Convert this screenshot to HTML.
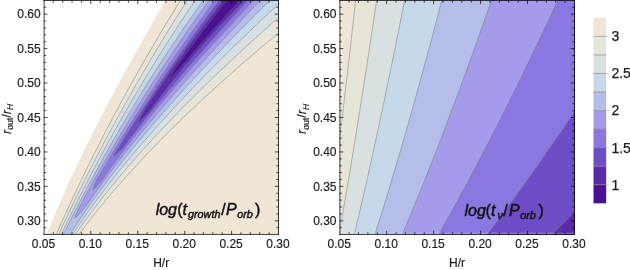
<!DOCTYPE html>
<html><head><meta charset="utf-8"><style>
html,body{margin:0;padding:0;background:#fff;width:630px;height:270px;overflow:hidden}
svg{display:block;will-change:transform}
text{font-family:"Liberation Sans",sans-serif;fill:#1a1a1a}
.tk{font-size:12px;stroke:#1a1a1a;stroke-width:0.15px}
.lg{font-size:14px;stroke:#1a1a1a;stroke-width:0.25px}
.pl{font-size:16px;font-style:italic;fill:#111;stroke:#111;stroke-width:0.45px}
</style></head><body>
<svg xmlns="http://www.w3.org/2000/svg" width="630" height="270" viewBox="0 0 630 270">
<rect width="630" height="270" fill="#fff"/>
<clipPath id="cl"><rect x="43.90" y="0" width="235.10" height="235"/></clipPath>
<g clip-path="url(#cl)">
<rect x="43.90" y="0" width="235.60" height="236" fill="#f0e6d5"/>
<polygon points="167.45,-2.80 165.67,0.24 163.89,3.28 162.12,6.32 160.34,9.36 158.58,12.40 156.81,15.44 155.05,18.48 153.30,21.52 151.55,24.56 149.80,27.61 148.06,30.65 146.32,33.69 144.59,36.73 142.87,39.77 141.14,42.81 139.43,45.85 137.72,48.89 136.01,51.93 134.31,54.97 132.61,58.01 130.92,61.05 129.24,64.09 127.56,67.13 125.89,70.17 124.22,73.21 122.56,76.25 120.90,79.29 119.25,82.33 117.61,85.37 115.98,88.42 114.35,91.46 112.72,94.50 111.11,97.54 109.50,100.58 107.89,103.62 106.30,106.66 104.71,109.70 103.13,112.74 101.55,115.78 99.99,118.82 98.43,121.86 96.87,124.90 95.33,127.94 93.79,130.98 92.26,134.02 90.74,137.06 89.23,140.10 87.72,143.14 86.22,146.18 84.73,149.23 83.25,152.27 81.78,155.31 80.31,158.35 78.85,161.39 77.41,164.43 75.97,167.47 74.54,170.51 73.12,173.55 71.70,176.59 70.30,179.63 68.91,182.67 67.52,185.71 66.15,188.75 64.78,191.79 63.42,194.83 62.07,197.87 60.74,200.91 59.41,203.95 58.09,206.99 56.78,210.04 55.48,213.08 54.20,216.12 52.92,219.16 51.65,222.20 50.39,225.24 49.15,228.28 47.91,231.32 46.69,234.36 45.47,237.40 38.90,237.40 38.90,-2.80" fill="#ffffff"/>
<polygon points="182.50,-2.80 180.59,0.24 178.70,3.28 176.81,6.32 174.92,9.36 173.05,12.40 171.19,15.44 169.33,18.48 167.48,21.52 165.64,24.56 163.80,27.61 161.98,30.65 160.16,33.69 158.35,36.73 156.55,39.77 154.75,42.81 152.96,45.85 151.18,48.89 149.41,51.93 147.64,54.97 145.89,58.01 144.14,61.05 142.39,64.09 140.66,67.13 138.93,70.17 137.21,73.21 135.50,76.25 133.79,79.29 132.09,82.33 130.40,85.37 128.71,88.42 127.04,91.46 125.37,94.50 123.70,97.54 122.05,100.58 120.40,103.62 118.76,106.66 117.12,109.70 115.50,112.74 113.88,115.78 112.26,118.82 110.66,121.86 109.06,124.90 107.47,127.94 105.88,130.98 104.30,134.02 102.73,137.06 101.17,140.10 99.61,143.14 98.06,146.18 96.52,149.23 94.99,152.27 93.46,155.31 91.94,158.35 90.42,161.39 88.92,164.43 87.42,167.47 85.93,170.51 84.44,173.55 82.96,176.59 81.49,179.63 80.03,182.67 78.58,185.71 77.13,188.75 75.69,191.79 74.25,194.83 72.83,197.87 71.41,200.91 70.00,203.95 68.60,206.99 67.20,210.04 65.81,213.08 64.43,216.12 63.06,219.16 61.70,222.20 60.34,225.24 59.00,228.28 57.66,231.32 56.32,234.36 55.00,237.40 76.81,237.40 79.03,234.36 81.28,231.32 83.56,228.28 85.86,225.24 88.19,222.20 90.55,219.16 92.93,216.12 95.34,213.08 97.77,210.04 100.23,206.99 102.72,203.95 105.23,200.91 107.77,197.87 110.33,194.83 112.92,191.79 115.53,188.75 118.16,185.71 120.82,182.67 123.51,179.63 126.22,176.59 128.95,173.55 131.71,170.51 134.49,167.47 137.30,164.43 140.13,161.39 142.98,158.35 145.85,155.31 148.75,152.27 151.67,149.23 154.62,146.18 157.58,143.14 160.57,140.10 163.58,137.06 166.61,134.02 169.66,130.98 172.74,127.94 175.83,124.90 178.95,121.86 182.09,118.82 185.25,115.78 188.42,112.74 191.62,109.70 194.84,106.66 198.08,103.62 201.34,100.58 204.62,97.54 207.91,94.50 211.23,91.46 214.57,88.42 217.92,85.37 221.29,82.33 224.68,79.29 228.09,76.25 231.51,73.21 234.96,70.17 238.42,67.13 241.90,64.09 245.39,61.05 248.90,58.01 252.43,54.97 255.97,51.93 259.53,48.89 263.10,45.85 266.69,42.81 270.30,39.77 273.92,36.73 277.55,33.69 281.20,30.65 284.87,27.61 288.54,24.56 292.23,21.52 295.94,18.48 299.65,15.44 303.38,12.40 307.13,9.36 310.88,6.32 314.65,3.28 318.43,0.24 322.22,-2.80" fill="#e7e4d8"/>
<polygon points="189.34,-2.80 187.38,0.24 185.43,3.28 183.49,6.32 181.56,9.36 179.64,12.40 177.72,15.44 175.81,18.48 173.91,21.52 172.02,24.56 170.13,27.61 168.25,30.65 166.38,33.69 164.51,36.73 162.66,39.77 160.81,42.81 158.97,45.85 157.13,48.89 155.30,51.93 153.48,54.97 151.67,58.01 149.86,61.05 148.06,64.09 146.27,67.13 144.49,70.17 142.71,73.21 140.94,76.25 139.17,79.29 137.42,82.33 135.67,85.37 133.93,88.42 132.19,91.46 130.46,94.50 128.74,97.54 127.03,100.58 125.32,103.62 123.62,106.66 121.93,109.70 120.24,112.74 118.56,115.78 116.89,118.82 115.23,121.86 113.57,124.90 111.92,127.94 110.27,130.98 108.64,134.02 107.01,137.06 105.38,140.10 103.77,143.14 102.16,146.18 100.56,149.23 98.96,152.27 97.38,155.31 95.80,158.35 94.22,161.39 92.66,164.43 91.10,167.47 89.55,170.51 88.01,173.55 86.47,176.59 84.94,179.63 83.42,182.67 81.91,185.71 80.40,188.75 78.90,191.79 77.41,194.83 75.93,197.87 74.45,200.91 72.99,203.95 71.53,206.99 70.07,210.04 68.63,213.08 67.19,216.12 65.77,219.16 64.35,222.20 62.93,225.24 61.53,228.28 60.14,231.32 58.75,234.36 57.37,237.40 73.27,237.40 75.37,234.36 77.49,231.32 79.64,228.28 81.81,225.24 84.00,222.20 86.22,219.16 88.46,216.12 90.73,213.08 93.02,210.04 95.33,206.99 97.67,203.95 100.02,200.91 102.41,197.87 104.81,194.83 107.24,191.79 109.69,188.75 112.16,185.71 114.65,182.67 117.17,179.63 119.71,176.59 122.27,173.55 124.85,170.51 127.45,167.47 130.07,164.43 132.72,161.39 135.39,158.35 138.07,155.31 140.78,152.27 143.51,149.23 146.25,146.18 149.02,143.14 151.81,140.10 154.61,137.06 157.44,134.02 160.29,130.98 163.15,127.94 166.03,124.90 168.94,121.86 171.86,118.82 174.80,115.78 177.75,112.74 180.73,109.70 183.72,106.66 186.73,103.62 189.76,100.58 192.80,97.54 195.87,94.50 198.95,91.46 202.04,88.42 205.15,85.37 208.28,82.33 211.42,79.29 214.58,76.25 217.76,73.21 220.95,70.17 224.15,67.13 227.37,64.09 230.61,61.05 233.86,58.01 237.12,54.97 240.40,51.93 243.69,48.89 246.99,45.85 250.31,42.81 253.64,39.77 256.98,36.73 260.34,33.69 263.71,30.65 267.09,27.61 270.48,24.56 273.89,21.52 277.30,18.48 280.73,15.44 284.17,12.40 287.62,9.36 291.07,6.32 294.54,3.28 298.02,0.24 301.51,-2.80" fill="#d9e0e2"/>
<polygon points="197.42,-2.80 195.33,0.24 193.26,3.28 191.20,6.32 189.14,9.36 187.10,12.40 185.07,15.44 183.04,18.48 181.03,21.52 179.03,24.56 177.03,27.61 175.05,30.65 173.07,33.69 171.11,36.73 169.15,39.77 167.21,42.81 165.27,45.85 163.34,48.89 161.42,51.93 159.51,54.97 157.61,58.01 155.72,61.05 153.83,64.09 151.96,67.13 150.09,70.17 148.23,73.21 146.39,76.25 144.55,79.29 142.71,82.33 140.89,85.37 139.08,88.42 137.27,91.46 135.47,94.50 133.68,97.54 131.90,100.58 130.13,103.62 128.36,106.66 126.60,109.70 124.85,112.74 123.11,115.78 121.38,118.82 119.66,121.86 117.94,124.90 116.23,127.94 114.53,130.98 112.84,134.02 111.15,137.06 109.47,140.10 107.80,143.14 106.14,146.18 104.49,149.23 102.84,152.27 101.20,155.31 99.57,158.35 97.95,161.39 96.33,164.43 94.73,167.47 93.13,170.51 91.54,173.55 89.95,176.59 88.38,179.63 86.81,182.67 85.25,185.71 83.70,188.75 82.15,191.79 80.62,194.83 79.09,197.87 77.57,200.91 76.05,203.95 74.55,206.99 73.05,210.04 71.56,213.08 70.08,216.12 68.61,219.16 67.15,222.20 65.69,225.24 64.24,228.28 62.81,231.32 61.37,234.36 59.95,237.40 70.67,237.40 72.67,234.36 74.69,231.32 76.73,228.28 78.79,225.24 80.88,222.20 82.99,219.16 85.12,216.12 87.27,213.08 89.44,210.04 91.64,206.99 93.85,203.95 96.09,200.91 98.35,197.87 100.63,194.83 102.93,191.79 105.25,188.75 107.59,185.71 109.95,182.67 112.33,179.63 114.73,176.59 117.15,173.55 119.59,170.51 122.05,167.47 124.53,164.43 127.03,161.39 129.55,158.35 132.09,155.31 134.64,152.27 137.22,149.23 139.81,146.18 142.42,143.14 145.05,140.10 147.70,137.06 150.36,134.02 153.05,130.98 155.75,127.94 158.46,124.90 161.20,121.86 163.95,118.82 166.72,115.78 169.50,112.74 172.30,109.70 175.12,106.66 177.95,103.62 180.80,100.58 183.67,97.54 186.55,94.50 189.45,91.46 192.36,88.42 195.28,85.37 198.22,82.33 201.18,79.29 204.15,76.25 207.13,73.21 210.13,70.17 213.14,67.13 216.17,64.09 219.20,61.05 222.26,58.01 225.32,54.97 228.40,51.93 231.49,48.89 234.59,45.85 237.71,42.81 240.83,39.77 243.97,36.73 247.12,33.69 250.28,30.65 253.46,27.61 256.64,24.56 259.84,21.52 263.04,18.48 266.26,15.44 269.48,12.40 272.72,9.36 275.96,6.32 279.22,3.28 282.48,0.24 285.75,-2.80" fill="#c6d9ea"/>
<polygon points="205.53,-2.80 203.34,0.24 201.16,3.28 198.98,6.32 196.82,9.36 194.68,12.40 192.54,15.44 190.41,18.48 188.29,21.52 186.19,24.56 184.09,27.61 182.01,30.65 179.94,33.69 177.87,36.73 175.82,39.77 173.78,42.81 171.74,45.85 169.72,48.89 167.71,51.93 165.71,54.97 163.71,58.01 161.73,61.05 159.76,64.09 157.79,67.13 155.84,70.17 153.89,73.21 151.96,76.25 150.03,79.29 148.12,82.33 146.21,85.37 144.31,88.42 142.42,91.46 140.55,94.50 138.68,97.54 136.81,100.58 134.96,103.62 133.12,106.66 131.28,109.70 129.46,112.74 127.64,115.78 125.84,118.82 124.04,121.86 122.25,124.90 120.46,127.94 118.69,130.98 116.93,134.02 115.17,137.06 113.42,140.10 111.69,143.14 109.95,146.18 108.23,149.23 106.52,152.27 104.82,155.31 103.12,158.35 101.43,161.39 99.75,164.43 98.08,167.47 96.42,170.51 94.76,173.55 93.12,176.59 91.48,179.63 89.85,182.67 88.23,185.71 86.62,188.75 85.02,191.79 83.42,194.83 81.84,197.87 80.26,200.91 78.69,203.95 77.13,206.99 75.58,210.04 74.03,213.08 72.50,216.12 70.97,219.16 69.45,222.20 67.95,225.24 66.45,228.28 64.96,231.32 63.47,234.36 62.00,237.40 68.14,237.40 70.07,234.36 72.02,231.32 73.99,228.28 75.99,225.24 78.00,222.20 80.04,219.16 82.09,216.12 84.17,213.08 86.27,210.04 88.38,206.99 90.52,203.95 92.68,200.91 94.86,197.87 97.05,194.83 99.27,191.79 101.50,188.75 103.76,185.71 106.03,182.67 108.32,179.63 110.64,176.59 112.96,173.55 115.31,170.51 117.68,167.47 120.06,164.43 122.46,161.39 124.88,158.35 127.32,155.31 129.77,152.27 132.24,149.23 134.73,146.18 137.23,143.14 139.75,140.10 142.29,137.06 144.84,134.02 147.41,130.98 149.99,127.94 152.59,124.90 155.21,121.86 157.84,118.82 160.48,115.78 163.14,112.74 165.81,109.70 168.50,106.66 171.20,103.62 173.92,100.58 176.65,97.54 179.39,94.50 182.15,91.46 184.92,88.42 187.70,85.37 190.49,82.33 193.30,79.29 196.12,76.25 198.95,73.21 201.79,70.17 204.64,67.13 207.51,64.09 210.38,61.05 213.27,58.01 216.17,54.97 219.07,51.93 221.99,48.89 224.92,45.85 227.85,42.81 230.80,39.77 233.75,36.73 236.72,33.69 239.69,30.65 242.67,27.61 245.66,24.56 248.65,21.52 251.66,18.48 254.67,15.44 257.69,12.40 260.71,9.36 263.75,6.32 266.78,3.28 269.83,0.24 272.88,-2.80" fill="#b5bdeb"/>
<polygon points="211.39,-2.80 209.36,-0.01 207.34,2.79 205.33,5.58 203.33,8.38 201.33,11.17 199.34,13.97 197.36,16.76 195.39,19.56 193.42,22.35 191.47,25.15 189.52,27.94 187.57,30.74 185.64,33.53 183.71,36.33 181.79,39.12 179.88,41.92 177.97,44.71 176.07,47.51 174.18,50.30 172.29,53.10 170.42,55.89 168.55,58.69 166.68,61.48 164.83,64.28 162.98,67.07 161.14,69.87 159.30,72.66 157.48,75.46 155.66,78.25 153.84,81.05 152.04,83.84 150.24,86.64 148.45,89.43 146.66,92.23 144.89,95.02 143.11,97.82 141.35,100.61 139.59,103.41 137.84,106.20 136.10,109.00 134.37,111.79 132.64,114.59 130.91,117.38 129.20,120.18 127.49,122.97 125.79,125.77 124.10,128.56 122.41,131.36 120.73,134.15 119.06,136.95 117.39,139.74 115.73,142.54 114.08,145.33 112.43,148.13 110.79,150.92 109.16,153.72 107.54,156.51 105.92,159.31 104.31,162.10 102.71,164.90 101.12,167.69 99.53,170.49 97.95,173.28 96.37,176.08 94.81,178.87 93.25,181.67 91.69,184.46 90.15,187.26 88.61,190.05 87.08,192.85 85.56,195.64 84.04,198.44 82.54,201.23 81.04,204.03 79.54,206.82 78.16,209.62 76.90,212.41 75.73,215.21 75.00,218.00 75.00,218.00 77.91,215.21 80.49,212.41 83.10,209.62 85.45,206.82 87.36,204.03 89.30,201.23 91.24,198.44 93.21,195.64 95.19,192.85 97.18,190.05 99.20,187.26 101.22,184.46 103.27,181.67 105.32,178.87 107.40,176.08 109.48,173.28 111.59,170.49 113.70,167.69 115.83,164.90 117.98,162.10 120.14,159.31 122.31,156.51 124.50,153.72 126.70,150.92 128.92,148.13 131.14,145.33 133.38,142.54 135.64,139.74 137.90,136.95 140.18,134.15 142.48,131.36 144.78,128.56 147.09,125.77 149.42,122.97 151.76,120.18 154.11,117.38 156.47,114.59 158.85,111.79 161.23,109.00 163.63,106.20 166.03,103.41 168.45,100.61 170.87,97.82 173.31,95.02 175.76,92.23 178.21,89.43 180.68,86.64 183.15,83.84 185.63,81.05 188.13,78.25 190.63,75.46 193.13,72.66 195.65,69.87 198.18,67.07 200.71,64.28 203.25,61.48 205.80,58.69 208.35,55.89 210.91,53.10 213.48,50.30 216.06,47.51 218.64,44.71 221.23,41.92 223.82,39.12 226.42,36.33 229.02,33.53 231.63,30.74 234.25,27.94 236.87,25.15 239.49,22.35 242.12,19.56 244.75,16.76 247.39,13.97 250.03,11.17 252.67,8.38 255.31,5.58 257.96,2.79 260.62,-0.01 263.27,-2.80" fill="#a49cea"/>
<polygon points="217.18,-2.80 215.37,-0.36 213.56,2.08 211.76,4.52 209.97,6.96 208.18,9.40 206.40,11.84 204.62,14.28 202.85,16.72 201.08,19.16 199.32,21.61 197.56,24.05 195.81,26.49 194.07,28.93 192.33,31.37 190.60,33.81 188.87,36.25 187.15,38.69 185.43,41.13 183.72,43.57 182.02,46.01 180.32,48.45 178.62,50.89 176.94,53.33 175.25,55.77 173.57,58.21 171.90,60.65 170.23,63.09 168.57,65.53 166.92,67.97 165.27,70.42 163.62,72.86 161.98,75.30 160.35,77.74 158.72,80.18 157.09,82.62 155.48,85.06 153.86,87.50 152.26,89.94 150.65,92.38 149.06,94.82 147.47,97.26 145.88,99.70 144.30,102.14 142.72,104.58 141.15,107.02 139.59,109.46 138.03,111.90 136.48,114.34 134.93,116.78 133.39,119.23 131.85,121.67 130.32,124.11 128.79,126.55 127.27,128.99 125.75,131.43 124.24,133.87 122.74,136.31 121.24,138.75 119.74,141.19 118.26,143.63 116.77,146.07 115.30,148.51 113.82,150.95 112.36,153.39 110.90,155.83 109.44,158.27 107.99,160.71 106.55,163.15 105.11,165.59 103.67,168.04 102.25,170.48 100.82,172.92 99.41,175.36 98.00,177.80 96.63,180.24 95.56,182.68 94.54,185.12 93.57,187.56 93.00,190.00 93.00,190.00 95.45,187.56 97.58,185.12 99.70,182.68 101.85,180.24 103.62,177.80 105.36,175.36 107.10,172.92 108.86,170.48 110.63,168.04 112.40,165.59 114.19,163.15 115.99,160.71 117.80,158.27 119.62,155.83 121.45,153.39 123.29,150.95 125.15,148.51 127.01,146.07 128.88,143.63 130.76,141.19 132.65,138.75 134.55,136.31 136.47,133.87 138.39,131.43 140.32,128.99 142.26,126.55 144.21,124.11 146.17,121.67 148.14,119.23 150.11,116.78 152.10,114.34 154.10,111.90 156.10,109.46 158.12,107.02 160.14,104.58 162.18,102.14 164.22,99.70 166.27,97.26 168.33,94.82 170.39,92.38 172.47,89.94 174.55,87.50 176.65,85.06 178.75,82.62 180.86,80.18 182.97,77.74 185.10,75.30 187.23,72.86 189.37,70.42 191.52,67.97 193.68,65.53 195.84,63.09 198.01,60.65 200.19,58.21 202.38,55.77 204.57,53.33 206.77,50.89 208.98,48.45 211.19,46.01 213.41,43.57 215.64,41.13 217.88,38.69 220.12,36.25 222.37,33.81 224.62,31.37 226.88,28.93 229.15,26.49 231.42,24.05 233.70,21.61 235.99,19.16 238.28,16.72 240.58,14.28 242.88,11.84 245.19,9.40 247.50,6.96 249.82,4.52 252.15,2.08 254.48,-0.36 256.82,-2.80" fill="#8a78e0"/>
<polygon points="221.79,-2.80 220.26,-0.79 218.74,1.22 217.21,3.23 215.70,5.24 214.18,7.25 212.67,9.26 211.17,11.27 209.67,13.28 208.17,15.29 206.68,17.30 205.19,19.31 203.71,21.32 202.23,23.33 200.75,25.34 199.28,27.35 197.82,29.36 196.35,31.37 194.90,33.38 193.44,35.39 191.99,37.40 190.55,39.41 189.10,41.42 187.67,43.43 186.23,45.44 184.80,47.45 183.38,49.46 181.95,51.47 180.54,53.48 179.12,55.49 177.71,57.50 176.31,59.51 174.91,61.52 173.51,63.53 172.11,65.54 170.72,67.55 169.34,69.56 167.96,71.57 166.58,73.58 165.20,75.59 163.83,77.61 162.47,79.62 161.11,81.63 159.75,83.64 158.39,85.65 157.04,87.66 155.69,89.67 154.35,91.68 153.01,93.69 151.68,95.70 150.34,97.71 149.02,99.72 147.69,101.73 146.37,103.74 145.06,105.75 143.74,107.76 142.44,109.77 141.13,111.78 139.83,113.79 138.53,115.80 137.24,117.81 135.95,119.82 134.66,121.83 133.38,123.84 132.10,125.85 130.83,127.86 129.56,129.87 128.29,131.88 127.03,133.89 125.77,135.90 124.51,137.91 123.26,139.92 122.01,141.93 120.77,143.94 119.53,145.95 118.29,147.96 117.08,149.97 115.90,151.98 114.78,153.99 114.00,156.00 114.00,156.00 116.42,153.99 118.56,151.98 120.70,149.97 122.85,147.96 124.37,145.95 125.89,143.94 127.41,141.93 128.95,139.92 130.49,137.91 132.03,135.90 133.58,133.89 135.14,131.88 136.71,129.87 138.28,127.86 139.85,125.85 141.43,123.84 143.02,121.83 144.62,119.82 146.22,117.81 147.82,115.80 149.43,113.79 151.05,111.78 152.67,109.77 154.30,107.76 155.93,105.75 157.57,103.74 159.22,101.73 160.87,99.72 162.52,97.71 164.18,95.70 165.85,93.69 167.52,91.68 169.19,89.67 170.87,87.66 172.56,85.65 174.25,83.64 175.94,81.63 177.64,79.62 179.35,77.61 181.05,75.59 182.77,73.58 184.48,71.57 186.21,69.56 187.93,67.55 189.66,65.54 191.40,63.53 193.14,61.52 194.88,59.51 196.63,57.50 198.38,55.49 200.13,53.48 201.89,51.47 203.65,49.46 205.42,47.45 207.19,45.44 208.96,43.43 210.74,41.42 212.52,39.41 214.31,37.40 216.09,35.39 217.88,33.38 219.68,31.37 221.47,29.36 223.27,27.35 225.08,25.34 226.88,23.33 228.69,21.32 230.50,19.31 232.31,17.30 234.13,15.29 235.95,13.28 237.77,11.27 239.60,9.26 241.42,7.25 243.25,5.24 245.08,3.23 246.91,1.22 248.75,-0.79 250.59,-2.80" fill="#6e4ec6"/>
<polygon points="226.08,-2.80 224.80,-1.21 223.53,0.37 222.27,1.96 221.00,3.54 219.75,5.13 218.49,6.72 217.24,8.30 216.00,9.89 214.75,11.47 213.51,13.06 212.28,14.65 211.05,16.23 209.82,17.82 208.60,19.41 207.38,20.99 206.16,22.58 204.95,24.16 203.74,25.75 202.53,27.34 201.33,28.92 200.13,30.51 198.94,32.09 197.75,33.68 196.56,35.27 195.38,36.85 194.20,38.44 193.02,40.02 191.85,41.61 190.68,43.20 189.51,44.78 188.35,46.37 187.19,47.95 186.03,49.54 184.88,51.13 183.73,52.71 182.58,54.30 181.44,55.88 180.30,57.47 179.16,59.06 178.03,60.64 176.90,62.23 175.78,63.82 174.65,65.40 173.53,66.99 172.41,68.57 171.30,70.16 170.19,71.75 169.08,73.33 167.98,74.92 166.88,76.50 165.78,78.09 164.68,79.68 163.59,81.26 162.50,82.85 161.41,84.43 160.33,86.02 159.25,87.61 158.17,89.19 157.10,90.78 156.03,92.36 154.96,93.95 153.89,95.54 152.83,97.12 151.77,98.71 150.71,100.29 149.66,101.88 148.61,103.47 147.56,105.05 146.51,106.64 145.47,108.23 144.58,109.81 143.72,111.40 142.86,112.98 142.00,114.57 141.15,116.16 140.31,117.74 139.49,119.33 138.73,120.91 138.30,122.50 138.30,122.50 140.19,120.91 141.75,119.33 143.25,117.74 144.72,116.16 146.17,114.57 147.60,112.98 149.03,111.40 150.45,109.81 151.83,108.23 153.00,106.64 154.18,105.05 155.36,103.47 156.55,101.88 157.74,100.29 158.94,98.71 160.14,97.12 161.35,95.54 162.56,93.95 163.77,92.36 165.00,90.78 166.22,89.19 167.45,87.61 168.69,86.02 169.93,84.43 171.18,82.85 172.43,81.26 173.69,79.68 174.96,78.09 176.23,76.50 177.50,74.92 178.78,73.33 180.07,71.75 181.36,70.16 182.66,68.57 183.96,66.99 185.27,65.40 186.58,63.82 187.90,62.23 189.23,60.64 190.56,59.06 191.89,57.47 193.24,55.88 194.59,54.30 195.94,52.71 197.30,51.13 198.67,49.54 200.04,47.95 201.42,46.37 202.81,44.78 204.20,43.20 205.60,41.61 207.00,40.02 208.41,38.44 209.83,36.85 211.25,35.27 212.68,33.68 214.12,32.09 215.56,30.51 217.01,28.92 218.47,27.34 219.93,25.75 221.40,24.16 222.87,22.58 224.36,20.99 225.85,19.41 227.34,17.82 228.85,16.23 230.36,14.65 231.88,13.06 233.40,11.47 234.93,9.89 236.47,8.30 238.02,6.72 239.57,5.13 241.13,3.54 242.70,1.96 244.27,0.37 245.86,-1.21 247.45,-2.80" fill="#5a2ba8"/>
<polygon points="228.96,-2.80 228.13,-1.74 227.30,-0.68 226.47,0.38 225.64,1.44 224.81,2.50 223.98,3.56 223.16,4.63 222.33,5.69 221.51,6.75 220.69,7.81 219.86,8.87 219.04,9.93 218.22,10.99 217.40,12.05 216.58,13.11 215.76,14.17 214.95,15.23 214.13,16.29 213.32,17.35 212.50,18.42 211.69,19.48 210.88,20.54 210.06,21.60 209.25,22.66 208.44,23.72 207.63,24.78 206.83,25.84 206.02,26.90 205.21,27.96 204.41,29.02 203.60,30.08 202.80,31.14 202.00,32.21 201.19,33.27 200.39,34.33 199.59,35.39 198.80,36.45 198.00,37.51 197.20,38.57 196.40,39.63 195.61,40.69 194.81,41.75 194.02,42.81 193.23,43.87 192.44,44.93 191.65,45.99 190.86,47.06 190.07,48.12 189.28,49.18 188.49,50.24 187.71,51.30 186.92,52.36 186.14,53.42 185.36,54.48 184.57,55.54 183.79,56.60 183.01,57.66 182.23,58.72 181.46,59.78 180.68,60.85 179.90,61.91 179.13,62.97 178.35,64.03 177.58,65.09 176.81,66.15 176.06,67.21 175.39,68.27 174.72,69.33 174.06,70.39 173.40,71.45 172.75,72.51 172.10,73.57 171.45,74.64 170.81,75.70 170.18,76.76 169.56,77.82 168.96,78.88 168.40,79.94 168.00,81.00 168.00,81.00 169.16,79.94 170.15,78.88 171.12,77.82 172.08,76.76 173.04,75.70 174.00,74.64 174.96,73.57 175.93,72.51 176.91,71.45 177.89,70.39 178.87,69.33 179.86,68.27 180.86,67.21 181.77,66.15 182.65,65.09 183.54,64.03 184.43,62.97 185.32,61.91 186.21,60.85 187.10,59.78 188.00,58.72 188.89,57.66 189.79,56.60 190.69,55.54 191.60,54.48 192.50,53.42 193.41,52.36 194.32,51.30 195.22,50.24 196.14,49.18 197.05,48.12 197.96,47.06 198.88,45.99 199.80,44.93 200.72,43.87 201.64,42.81 202.57,41.75 203.49,40.69 204.42,39.63 205.35,38.57 206.28,37.51 207.22,36.45 208.15,35.39 209.09,34.33 210.03,33.27 210.97,32.21 211.91,31.14 212.85,30.08 213.80,29.02 214.74,27.96 215.69,26.90 216.65,25.84 217.60,24.78 218.55,23.72 219.51,22.66 220.47,21.60 221.43,20.54 222.39,19.48 223.35,18.42 224.32,17.35 225.29,16.29 226.25,15.23 227.23,14.17 228.20,13.11 229.17,12.05 230.15,10.99 231.13,9.93 232.11,8.87 233.09,7.81 234.07,6.75 235.06,5.69 236.04,4.63 237.03,3.56 238.02,2.50 239.01,1.44 240.01,0.38 241.00,-0.68 242.00,-1.74 243.00,-2.80" fill="#4a1192"/>
<polyline points="182.50,-2.80 180.59,0.24 178.70,3.28 176.81,6.32 174.92,9.36 173.05,12.40 171.19,15.44 169.33,18.48 167.48,21.52 165.64,24.56 163.80,27.61 161.98,30.65 160.16,33.69 158.35,36.73 156.55,39.77 154.75,42.81 152.96,45.85 151.18,48.89 149.41,51.93 147.64,54.97 145.89,58.01 144.14,61.05 142.39,64.09 140.66,67.13 138.93,70.17 137.21,73.21 135.50,76.25 133.79,79.29 132.09,82.33 130.40,85.37 128.71,88.42 127.04,91.46 125.37,94.50 123.70,97.54 122.05,100.58 120.40,103.62 118.76,106.66 117.12,109.70 115.50,112.74 113.88,115.78 112.26,118.82 110.66,121.86 109.06,124.90 107.47,127.94 105.88,130.98 104.30,134.02 102.73,137.06 101.17,140.10 99.61,143.14 98.06,146.18 96.52,149.23 94.99,152.27 93.46,155.31 91.94,158.35 90.42,161.39 88.92,164.43 87.42,167.47 85.93,170.51 84.44,173.55 82.96,176.59 81.49,179.63 80.03,182.67 78.58,185.71 77.13,188.75 75.69,191.79 74.25,194.83 72.83,197.87 71.41,200.91 70.00,203.95 68.60,206.99 67.20,210.04 65.81,213.08 64.43,216.12 63.06,219.16 61.70,222.20 60.34,225.24 59.00,228.28 57.66,231.32 56.32,234.36 55.00,237.40" stroke="#6b6b6b" stroke-opacity="0.75" stroke-width="0.6" fill="none"/>
<polyline points="322.22,-2.80 318.43,0.24 314.65,3.28 310.88,6.32 307.13,9.36 303.38,12.40 299.65,15.44 295.94,18.48 292.23,21.52 288.54,24.56 284.87,27.61 281.20,30.65 277.55,33.69 273.92,36.73 270.30,39.77 266.69,42.81 263.10,45.85 259.53,48.89 255.97,51.93 252.43,54.97 248.90,58.01 245.39,61.05 241.90,64.09 238.42,67.13 234.96,70.17 231.51,73.21 228.09,76.25 224.68,79.29 221.29,82.33 217.92,85.37 214.57,88.42 211.23,91.46 207.91,94.50 204.62,97.54 201.34,100.58 198.08,103.62 194.84,106.66 191.62,109.70 188.42,112.74 185.25,115.78 182.09,118.82 178.95,121.86 175.83,124.90 172.74,127.94 169.66,130.98 166.61,134.02 163.58,137.06 160.57,140.10 157.58,143.14 154.62,146.18 151.67,149.23 148.75,152.27 145.85,155.31 142.98,158.35 140.13,161.39 137.30,164.43 134.49,167.47 131.71,170.51 128.95,173.55 126.22,176.59 123.51,179.63 120.82,182.67 118.16,185.71 115.53,188.75 112.92,191.79 110.33,194.83 107.77,197.87 105.23,200.91 102.72,203.95 100.23,206.99 97.77,210.04 95.34,213.08 92.93,216.12 90.55,219.16 88.19,222.20 85.86,225.24 83.56,228.28 81.28,231.32 79.03,234.36 76.81,237.40" stroke="#6b6b6b" stroke-opacity="0.75" stroke-width="0.6" fill="none"/>
<polyline points="189.34,-2.80 187.38,0.24 185.43,3.28 183.49,6.32 181.56,9.36 179.64,12.40 177.72,15.44 175.81,18.48 173.91,21.52 172.02,24.56 170.13,27.61 168.25,30.65 166.38,33.69 164.51,36.73 162.66,39.77 160.81,42.81 158.97,45.85 157.13,48.89 155.30,51.93 153.48,54.97 151.67,58.01 149.86,61.05 148.06,64.09 146.27,67.13 144.49,70.17 142.71,73.21 140.94,76.25 139.17,79.29 137.42,82.33 135.67,85.37 133.93,88.42 132.19,91.46 130.46,94.50 128.74,97.54 127.03,100.58 125.32,103.62 123.62,106.66 121.93,109.70 120.24,112.74 118.56,115.78 116.89,118.82 115.23,121.86 113.57,124.90 111.92,127.94 110.27,130.98 108.64,134.02 107.01,137.06 105.38,140.10 103.77,143.14 102.16,146.18 100.56,149.23 98.96,152.27 97.38,155.31 95.80,158.35 94.22,161.39 92.66,164.43 91.10,167.47 89.55,170.51 88.01,173.55 86.47,176.59 84.94,179.63 83.42,182.67 81.91,185.71 80.40,188.75 78.90,191.79 77.41,194.83 75.93,197.87 74.45,200.91 72.99,203.95 71.53,206.99 70.07,210.04 68.63,213.08 67.19,216.12 65.77,219.16 64.35,222.20 62.93,225.24 61.53,228.28 60.14,231.32 58.75,234.36 57.37,237.40" stroke="#6b6b6b" stroke-opacity="0.75" stroke-width="0.6" fill="none"/>
<polyline points="301.51,-2.80 298.02,0.24 294.54,3.28 291.07,6.32 287.62,9.36 284.17,12.40 280.73,15.44 277.30,18.48 273.89,21.52 270.48,24.56 267.09,27.61 263.71,30.65 260.34,33.69 256.98,36.73 253.64,39.77 250.31,42.81 246.99,45.85 243.69,48.89 240.40,51.93 237.12,54.97 233.86,58.01 230.61,61.05 227.37,64.09 224.15,67.13 220.95,70.17 217.76,73.21 214.58,76.25 211.42,79.29 208.28,82.33 205.15,85.37 202.04,88.42 198.95,91.46 195.87,94.50 192.80,97.54 189.76,100.58 186.73,103.62 183.72,106.66 180.73,109.70 177.75,112.74 174.80,115.78 171.86,118.82 168.94,121.86 166.03,124.90 163.15,127.94 160.29,130.98 157.44,134.02 154.61,137.06 151.81,140.10 149.02,143.14 146.25,146.18 143.51,149.23 140.78,152.27 138.07,155.31 135.39,158.35 132.72,161.39 130.07,164.43 127.45,167.47 124.85,170.51 122.27,173.55 119.71,176.59 117.17,179.63 114.65,182.67 112.16,185.71 109.69,188.75 107.24,191.79 104.81,194.83 102.41,197.87 100.02,200.91 97.67,203.95 95.33,206.99 93.02,210.04 90.73,213.08 88.46,216.12 86.22,219.16 84.00,222.20 81.81,225.24 79.64,228.28 77.49,231.32 75.37,234.36 73.27,237.40" stroke="#6b6b6b" stroke-opacity="0.75" stroke-width="0.6" fill="none"/>
<polyline points="197.42,-2.80 195.33,0.24 193.26,3.28 191.20,6.32 189.14,9.36 187.10,12.40 185.07,15.44 183.04,18.48 181.03,21.52 179.03,24.56 177.03,27.61 175.05,30.65 173.07,33.69 171.11,36.73 169.15,39.77 167.21,42.81 165.27,45.85 163.34,48.89 161.42,51.93 159.51,54.97 157.61,58.01 155.72,61.05 153.83,64.09 151.96,67.13 150.09,70.17 148.23,73.21 146.39,76.25 144.55,79.29 142.71,82.33 140.89,85.37 139.08,88.42 137.27,91.46 135.47,94.50 133.68,97.54 131.90,100.58 130.13,103.62 128.36,106.66 126.60,109.70 124.85,112.74 123.11,115.78 121.38,118.82 119.66,121.86 117.94,124.90 116.23,127.94 114.53,130.98 112.84,134.02 111.15,137.06 109.47,140.10 107.80,143.14 106.14,146.18 104.49,149.23 102.84,152.27 101.20,155.31 99.57,158.35 97.95,161.39 96.33,164.43 94.73,167.47 93.13,170.51 91.54,173.55 89.95,176.59 88.38,179.63 86.81,182.67 85.25,185.71 83.70,188.75 82.15,191.79 80.62,194.83 79.09,197.87 77.57,200.91 76.05,203.95 74.55,206.99 73.05,210.04 71.56,213.08 70.08,216.12 68.61,219.16 67.15,222.20 65.69,225.24 64.24,228.28 62.81,231.32 61.37,234.36 59.95,237.40" stroke="#6b6b6b" stroke-opacity="0.75" stroke-width="0.6" fill="none"/>
<polyline points="285.75,-2.80 282.48,0.24 279.22,3.28 275.96,6.32 272.72,9.36 269.48,12.40 266.26,15.44 263.04,18.48 259.84,21.52 256.64,24.56 253.46,27.61 250.28,30.65 247.12,33.69 243.97,36.73 240.83,39.77 237.71,42.81 234.59,45.85 231.49,48.89 228.40,51.93 225.32,54.97 222.26,58.01 219.20,61.05 216.17,64.09 213.14,67.13 210.13,70.17 207.13,73.21 204.15,76.25 201.18,79.29 198.22,82.33 195.28,85.37 192.36,88.42 189.45,91.46 186.55,94.50 183.67,97.54 180.80,100.58 177.95,103.62 175.12,106.66 172.30,109.70 169.50,112.74 166.72,115.78 163.95,118.82 161.20,121.86 158.46,124.90 155.75,127.94 153.05,130.98 150.36,134.02 147.70,137.06 145.05,140.10 142.42,143.14 139.81,146.18 137.22,149.23 134.64,152.27 132.09,155.31 129.55,158.35 127.03,161.39 124.53,164.43 122.05,167.47 119.59,170.51 117.15,173.55 114.73,176.59 112.33,179.63 109.95,182.67 107.59,185.71 105.25,188.75 102.93,191.79 100.63,194.83 98.35,197.87 96.09,200.91 93.85,203.95 91.64,206.99 89.44,210.04 87.27,213.08 85.12,216.12 82.99,219.16 80.88,222.20 78.79,225.24 76.73,228.28 74.69,231.32 72.67,234.36 70.67,237.40" stroke="#6b6b6b" stroke-opacity="0.75" stroke-width="0.6" fill="none"/>
<polyline points="205.53,-2.80 203.34,0.24 201.16,3.28 198.98,6.32 196.82,9.36 194.68,12.40 192.54,15.44 190.41,18.48 188.29,21.52 186.19,24.56 184.09,27.61 182.01,30.65 179.94,33.69 177.87,36.73 175.82,39.77 173.78,42.81 171.74,45.85 169.72,48.89 167.71,51.93 165.71,54.97 163.71,58.01 161.73,61.05 159.76,64.09 157.79,67.13 155.84,70.17 153.89,73.21 151.96,76.25 150.03,79.29 148.12,82.33 146.21,85.37 144.31,88.42 142.42,91.46 140.55,94.50 138.68,97.54 136.81,100.58 134.96,103.62 133.12,106.66 131.28,109.70 129.46,112.74 127.64,115.78 125.84,118.82 124.04,121.86 122.25,124.90 120.46,127.94 118.69,130.98 116.93,134.02 115.17,137.06 113.42,140.10 111.69,143.14 109.95,146.18 108.23,149.23 106.52,152.27 104.82,155.31 103.12,158.35 101.43,161.39 99.75,164.43 98.08,167.47 96.42,170.51 94.76,173.55 93.12,176.59 91.48,179.63 89.85,182.67 88.23,185.71 86.62,188.75 85.02,191.79 83.42,194.83 81.84,197.87 80.26,200.91 78.69,203.95 77.13,206.99 75.58,210.04 74.03,213.08 72.50,216.12 70.97,219.16 69.45,222.20 67.95,225.24 66.45,228.28 64.96,231.32 63.47,234.36 62.00,237.40" stroke="#6b6b6b" stroke-opacity="0.75" stroke-width="0.6" fill="none"/>
<polyline points="272.88,-2.80 269.83,0.24 266.78,3.28 263.75,6.32 260.71,9.36 257.69,12.40 254.67,15.44 251.66,18.48 248.65,21.52 245.66,24.56 242.67,27.61 239.69,30.65 236.72,33.69 233.75,36.73 230.80,39.77 227.85,42.81 224.92,45.85 221.99,48.89 219.07,51.93 216.17,54.97 213.27,58.01 210.38,61.05 207.51,64.09 204.64,67.13 201.79,70.17 198.95,73.21 196.12,76.25 193.30,79.29 190.49,82.33 187.70,85.37 184.92,88.42 182.15,91.46 179.39,94.50 176.65,97.54 173.92,100.58 171.20,103.62 168.50,106.66 165.81,109.70 163.14,112.74 160.48,115.78 157.84,118.82 155.21,121.86 152.59,124.90 149.99,127.94 147.41,130.98 144.84,134.02 142.29,137.06 139.75,140.10 137.23,143.14 134.73,146.18 132.24,149.23 129.77,152.27 127.32,155.31 124.88,158.35 122.46,161.39 120.06,164.43 117.68,167.47 115.31,170.51 112.96,173.55 110.64,176.59 108.32,179.63 106.03,182.67 103.76,185.71 101.50,188.75 99.27,191.79 97.05,194.83 94.86,197.87 92.68,200.91 90.52,203.95 88.38,206.99 86.27,210.04 84.17,213.08 82.09,216.12 80.04,219.16 78.00,222.20 75.99,225.24 73.99,228.28 72.02,231.32 70.07,234.36 68.14,237.40" stroke="#6b6b6b" stroke-opacity="0.75" stroke-width="0.6" fill="none"/>
<polyline points="211.39,-2.80 209.36,-0.01 207.34,2.79 205.33,5.58 203.33,8.38 201.33,11.17 199.34,13.97 197.36,16.76 195.39,19.56 193.42,22.35 191.47,25.15 189.52,27.94 187.57,30.74 185.64,33.53 183.71,36.33 181.79,39.12 179.88,41.92 177.97,44.71 176.07,47.51 174.18,50.30 172.29,53.10 170.42,55.89 168.55,58.69 166.68,61.48 164.83,64.28 162.98,67.07 161.14,69.87 159.30,72.66 157.48,75.46 155.66,78.25 153.84,81.05 152.04,83.84 150.24,86.64 148.45,89.43 146.66,92.23 144.89,95.02 143.11,97.82 141.35,100.61 139.59,103.41 137.84,106.20 136.10,109.00 134.37,111.79 132.64,114.59 130.91,117.38 129.20,120.18 127.49,122.97 125.79,125.77 124.10,128.56 122.41,131.36 120.73,134.15 119.06,136.95 117.39,139.74 115.73,142.54 114.08,145.33 112.43,148.13 110.79,150.92 109.16,153.72 107.54,156.51 105.92,159.31 104.31,162.10 102.71,164.90 101.12,167.69 99.53,170.49 97.95,173.28 96.37,176.08 94.81,178.87 93.25,181.67 91.69,184.46 90.15,187.26 88.61,190.05 87.08,192.85 85.56,195.64 84.04,198.44 82.54,201.23 81.04,204.03 79.54,206.82 78.16,209.62 76.90,212.41 75.73,215.21 75.00,218.00 75.00,218.00 77.91,215.21 80.49,212.41 83.10,209.62 85.45,206.82 87.36,204.03 89.30,201.23 91.24,198.44 93.21,195.64 95.19,192.85 97.18,190.05 99.20,187.26 101.22,184.46 103.27,181.67 105.32,178.87 107.40,176.08 109.48,173.28 111.59,170.49 113.70,167.69 115.83,164.90 117.98,162.10 120.14,159.31 122.31,156.51 124.50,153.72 126.70,150.92 128.92,148.13 131.14,145.33 133.38,142.54 135.64,139.74 137.90,136.95 140.18,134.15 142.48,131.36 144.78,128.56 147.09,125.77 149.42,122.97 151.76,120.18 154.11,117.38 156.47,114.59 158.85,111.79 161.23,109.00 163.63,106.20 166.03,103.41 168.45,100.61 170.87,97.82 173.31,95.02 175.76,92.23 178.21,89.43 180.68,86.64 183.15,83.84 185.63,81.05 188.13,78.25 190.63,75.46 193.13,72.66 195.65,69.87 198.18,67.07 200.71,64.28 203.25,61.48 205.80,58.69 208.35,55.89 210.91,53.10 213.48,50.30 216.06,47.51 218.64,44.71 221.23,41.92 223.82,39.12 226.42,36.33 229.02,33.53 231.63,30.74 234.25,27.94 236.87,25.15 239.49,22.35 242.12,19.56 244.75,16.76 247.39,13.97 250.03,11.17 252.67,8.38 255.31,5.58 257.96,2.79 260.62,-0.01 263.27,-2.80" stroke="#6b6b6b" stroke-opacity="0.75" stroke-width="0.6" fill="none"/>
<polyline points="217.18,-2.80 215.37,-0.36 213.56,2.08 211.76,4.52 209.97,6.96 208.18,9.40 206.40,11.84 204.62,14.28 202.85,16.72 201.08,19.16 199.32,21.61 197.56,24.05 195.81,26.49 194.07,28.93 192.33,31.37 190.60,33.81 188.87,36.25 187.15,38.69 185.43,41.13 183.72,43.57 182.02,46.01 180.32,48.45 178.62,50.89 176.94,53.33 175.25,55.77 173.57,58.21 171.90,60.65 170.23,63.09 168.57,65.53 166.92,67.97 165.27,70.42 163.62,72.86 161.98,75.30 160.35,77.74 158.72,80.18 157.09,82.62 155.48,85.06 153.86,87.50 152.26,89.94 150.65,92.38 149.06,94.82 147.47,97.26 145.88,99.70 144.30,102.14 142.72,104.58 141.15,107.02 139.59,109.46 138.03,111.90 136.48,114.34 134.93,116.78 133.39,119.23 131.85,121.67 130.32,124.11 128.79,126.55 127.27,128.99 125.75,131.43 124.24,133.87 122.74,136.31 121.24,138.75 119.74,141.19 118.26,143.63 116.77,146.07 115.30,148.51 113.82,150.95 112.36,153.39 110.90,155.83 109.44,158.27 107.99,160.71 106.55,163.15 105.11,165.59 103.67,168.04 102.25,170.48 100.82,172.92 99.41,175.36 98.00,177.80 96.63,180.24 95.56,182.68 94.54,185.12 93.57,187.56 93.00,190.00 93.00,190.00 95.45,187.56 97.58,185.12 99.70,182.68 101.85,180.24 103.62,177.80 105.36,175.36 107.10,172.92 108.86,170.48 110.63,168.04 112.40,165.59 114.19,163.15 115.99,160.71 117.80,158.27 119.62,155.83 121.45,153.39 123.29,150.95 125.15,148.51 127.01,146.07 128.88,143.63 130.76,141.19 132.65,138.75 134.55,136.31 136.47,133.87 138.39,131.43 140.32,128.99 142.26,126.55 144.21,124.11 146.17,121.67 148.14,119.23 150.11,116.78 152.10,114.34 154.10,111.90 156.10,109.46 158.12,107.02 160.14,104.58 162.18,102.14 164.22,99.70 166.27,97.26 168.33,94.82 170.39,92.38 172.47,89.94 174.55,87.50 176.65,85.06 178.75,82.62 180.86,80.18 182.97,77.74 185.10,75.30 187.23,72.86 189.37,70.42 191.52,67.97 193.68,65.53 195.84,63.09 198.01,60.65 200.19,58.21 202.38,55.77 204.57,53.33 206.77,50.89 208.98,48.45 211.19,46.01 213.41,43.57 215.64,41.13 217.88,38.69 220.12,36.25 222.37,33.81 224.62,31.37 226.88,28.93 229.15,26.49 231.42,24.05 233.70,21.61 235.99,19.16 238.28,16.72 240.58,14.28 242.88,11.84 245.19,9.40 247.50,6.96 249.82,4.52 252.15,2.08 254.48,-0.36 256.82,-2.80" stroke="#6b6b6b" stroke-opacity="0.75" stroke-width="0.6" fill="none"/>
<polyline points="221.79,-2.80 220.26,-0.79 218.74,1.22 217.21,3.23 215.70,5.24 214.18,7.25 212.67,9.26 211.17,11.27 209.67,13.28 208.17,15.29 206.68,17.30 205.19,19.31 203.71,21.32 202.23,23.33 200.75,25.34 199.28,27.35 197.82,29.36 196.35,31.37 194.90,33.38 193.44,35.39 191.99,37.40 190.55,39.41 189.10,41.42 187.67,43.43 186.23,45.44 184.80,47.45 183.38,49.46 181.95,51.47 180.54,53.48 179.12,55.49 177.71,57.50 176.31,59.51 174.91,61.52 173.51,63.53 172.11,65.54 170.72,67.55 169.34,69.56 167.96,71.57 166.58,73.58 165.20,75.59 163.83,77.61 162.47,79.62 161.11,81.63 159.75,83.64 158.39,85.65 157.04,87.66 155.69,89.67 154.35,91.68 153.01,93.69 151.68,95.70 150.34,97.71 149.02,99.72 147.69,101.73 146.37,103.74 145.06,105.75 143.74,107.76 142.44,109.77 141.13,111.78 139.83,113.79 138.53,115.80 137.24,117.81 135.95,119.82 134.66,121.83 133.38,123.84 132.10,125.85 130.83,127.86 129.56,129.87 128.29,131.88 127.03,133.89 125.77,135.90 124.51,137.91 123.26,139.92 122.01,141.93 120.77,143.94 119.53,145.95 118.29,147.96 117.08,149.97 115.90,151.98 114.78,153.99 114.00,156.00 114.00,156.00 116.42,153.99 118.56,151.98 120.70,149.97 122.85,147.96 124.37,145.95 125.89,143.94 127.41,141.93 128.95,139.92 130.49,137.91 132.03,135.90 133.58,133.89 135.14,131.88 136.71,129.87 138.28,127.86 139.85,125.85 141.43,123.84 143.02,121.83 144.62,119.82 146.22,117.81 147.82,115.80 149.43,113.79 151.05,111.78 152.67,109.77 154.30,107.76 155.93,105.75 157.57,103.74 159.22,101.73 160.87,99.72 162.52,97.71 164.18,95.70 165.85,93.69 167.52,91.68 169.19,89.67 170.87,87.66 172.56,85.65 174.25,83.64 175.94,81.63 177.64,79.62 179.35,77.61 181.05,75.59 182.77,73.58 184.48,71.57 186.21,69.56 187.93,67.55 189.66,65.54 191.40,63.53 193.14,61.52 194.88,59.51 196.63,57.50 198.38,55.49 200.13,53.48 201.89,51.47 203.65,49.46 205.42,47.45 207.19,45.44 208.96,43.43 210.74,41.42 212.52,39.41 214.31,37.40 216.09,35.39 217.88,33.38 219.68,31.37 221.47,29.36 223.27,27.35 225.08,25.34 226.88,23.33 228.69,21.32 230.50,19.31 232.31,17.30 234.13,15.29 235.95,13.28 237.77,11.27 239.60,9.26 241.42,7.25 243.25,5.24 245.08,3.23 246.91,1.22 248.75,-0.79 250.59,-2.80" stroke="#6b6b6b" stroke-opacity="0.75" stroke-width="0.6" fill="none"/>
<polyline points="226.08,-2.80 224.80,-1.21 223.53,0.37 222.27,1.96 221.00,3.54 219.75,5.13 218.49,6.72 217.24,8.30 216.00,9.89 214.75,11.47 213.51,13.06 212.28,14.65 211.05,16.23 209.82,17.82 208.60,19.41 207.38,20.99 206.16,22.58 204.95,24.16 203.74,25.75 202.53,27.34 201.33,28.92 200.13,30.51 198.94,32.09 197.75,33.68 196.56,35.27 195.38,36.85 194.20,38.44 193.02,40.02 191.85,41.61 190.68,43.20 189.51,44.78 188.35,46.37 187.19,47.95 186.03,49.54 184.88,51.13 183.73,52.71 182.58,54.30 181.44,55.88 180.30,57.47 179.16,59.06 178.03,60.64 176.90,62.23 175.78,63.82 174.65,65.40 173.53,66.99 172.41,68.57 171.30,70.16 170.19,71.75 169.08,73.33 167.98,74.92 166.88,76.50 165.78,78.09 164.68,79.68 163.59,81.26 162.50,82.85 161.41,84.43 160.33,86.02 159.25,87.61 158.17,89.19 157.10,90.78 156.03,92.36 154.96,93.95 153.89,95.54 152.83,97.12 151.77,98.71 150.71,100.29 149.66,101.88 148.61,103.47 147.56,105.05 146.51,106.64 145.47,108.23 144.58,109.81 143.72,111.40 142.86,112.98 142.00,114.57 141.15,116.16 140.31,117.74 139.49,119.33 138.73,120.91 138.30,122.50 138.30,122.50 140.19,120.91 141.75,119.33 143.25,117.74 144.72,116.16 146.17,114.57 147.60,112.98 149.03,111.40 150.45,109.81 151.83,108.23 153.00,106.64 154.18,105.05 155.36,103.47 156.55,101.88 157.74,100.29 158.94,98.71 160.14,97.12 161.35,95.54 162.56,93.95 163.77,92.36 165.00,90.78 166.22,89.19 167.45,87.61 168.69,86.02 169.93,84.43 171.18,82.85 172.43,81.26 173.69,79.68 174.96,78.09 176.23,76.50 177.50,74.92 178.78,73.33 180.07,71.75 181.36,70.16 182.66,68.57 183.96,66.99 185.27,65.40 186.58,63.82 187.90,62.23 189.23,60.64 190.56,59.06 191.89,57.47 193.24,55.88 194.59,54.30 195.94,52.71 197.30,51.13 198.67,49.54 200.04,47.95 201.42,46.37 202.81,44.78 204.20,43.20 205.60,41.61 207.00,40.02 208.41,38.44 209.83,36.85 211.25,35.27 212.68,33.68 214.12,32.09 215.56,30.51 217.01,28.92 218.47,27.34 219.93,25.75 221.40,24.16 222.87,22.58 224.36,20.99 225.85,19.41 227.34,17.82 228.85,16.23 230.36,14.65 231.88,13.06 233.40,11.47 234.93,9.89 236.47,8.30 238.02,6.72 239.57,5.13 241.13,3.54 242.70,1.96 244.27,0.37 245.86,-1.21 247.45,-2.80" stroke="#6b6b6b" stroke-opacity="0.75" stroke-width="0.6" fill="none"/>
<polyline points="228.96,-2.80 228.13,-1.74 227.30,-0.68 226.47,0.38 225.64,1.44 224.81,2.50 223.98,3.56 223.16,4.63 222.33,5.69 221.51,6.75 220.69,7.81 219.86,8.87 219.04,9.93 218.22,10.99 217.40,12.05 216.58,13.11 215.76,14.17 214.95,15.23 214.13,16.29 213.32,17.35 212.50,18.42 211.69,19.48 210.88,20.54 210.06,21.60 209.25,22.66 208.44,23.72 207.63,24.78 206.83,25.84 206.02,26.90 205.21,27.96 204.41,29.02 203.60,30.08 202.80,31.14 202.00,32.21 201.19,33.27 200.39,34.33 199.59,35.39 198.80,36.45 198.00,37.51 197.20,38.57 196.40,39.63 195.61,40.69 194.81,41.75 194.02,42.81 193.23,43.87 192.44,44.93 191.65,45.99 190.86,47.06 190.07,48.12 189.28,49.18 188.49,50.24 187.71,51.30 186.92,52.36 186.14,53.42 185.36,54.48 184.57,55.54 183.79,56.60 183.01,57.66 182.23,58.72 181.46,59.78 180.68,60.85 179.90,61.91 179.13,62.97 178.35,64.03 177.58,65.09 176.81,66.15 176.06,67.21 175.39,68.27 174.72,69.33 174.06,70.39 173.40,71.45 172.75,72.51 172.10,73.57 171.45,74.64 170.81,75.70 170.18,76.76 169.56,77.82 168.96,78.88 168.40,79.94 168.00,81.00 168.00,81.00 169.16,79.94 170.15,78.88 171.12,77.82 172.08,76.76 173.04,75.70 174.00,74.64 174.96,73.57 175.93,72.51 176.91,71.45 177.89,70.39 178.87,69.33 179.86,68.27 180.86,67.21 181.77,66.15 182.65,65.09 183.54,64.03 184.43,62.97 185.32,61.91 186.21,60.85 187.10,59.78 188.00,58.72 188.89,57.66 189.79,56.60 190.69,55.54 191.60,54.48 192.50,53.42 193.41,52.36 194.32,51.30 195.22,50.24 196.14,49.18 197.05,48.12 197.96,47.06 198.88,45.99 199.80,44.93 200.72,43.87 201.64,42.81 202.57,41.75 203.49,40.69 204.42,39.63 205.35,38.57 206.28,37.51 207.22,36.45 208.15,35.39 209.09,34.33 210.03,33.27 210.97,32.21 211.91,31.14 212.85,30.08 213.80,29.02 214.74,27.96 215.69,26.90 216.65,25.84 217.60,24.78 218.55,23.72 219.51,22.66 220.47,21.60 221.43,20.54 222.39,19.48 223.35,18.42 224.32,17.35 225.29,16.29 226.25,15.23 227.23,14.17 228.20,13.11 229.17,12.05 230.15,10.99 231.13,9.93 232.11,8.87 233.09,7.81 234.07,6.75 235.06,5.69 236.04,4.63 237.03,3.56 238.02,2.50 239.01,1.44 240.01,0.38 241.00,-0.68 242.00,-1.74 243.00,-2.80" stroke="#6b6b6b" stroke-opacity="0.75" stroke-width="0.6" fill="none"/>
</g>
<clipPath id="cr"><rect x="339.70" y="0" width="235.30" height="235"/></clipPath>
<g clip-path="url(#cr)">
<rect x="339.70" y="0" width="235.80" height="236" fill="#f0e6d5"/>
<polygon points="355.87,-1.80 355.42,2.24 354.98,6.27 354.53,10.31 354.08,14.35 353.63,18.39 353.18,22.42 352.72,26.46 352.27,30.50 351.81,34.54 351.36,38.57 350.90,42.61 350.44,46.65 349.98,50.68 349.52,54.72 349.06,58.76 348.60,62.80 348.13,66.83 347.67,70.87 347.20,74.91 346.73,78.95 346.26,82.98 345.79,87.02 345.32,91.06 344.84,95.09 344.37,99.13 343.89,103.17 343.41,107.21 342.93,111.24 342.45,115.28 341.97,119.32 341.48,123.36 340.99,127.39 340.51,131.43 340.02,135.47 339.52,139.51 339.03,143.54 338.54,147.58 338.04,151.62 337.54,155.65 337.04,159.69 336.54,163.73 336.03,167.77 335.53,171.80 335.02,175.84 334.51,179.88 334.00,183.92 333.48,187.95 332.97,191.99 332.45,196.03 331.93,200.06 331.40,204.10 330.88,208.14 330.35,212.18 329.82,216.21 329.29,220.25 328.75,224.29 328.21,228.33 327.67,232.36 327.13,236.40 579.50,236.40 579.50,-1.80" fill="#e7e4d8"/>
<polyline points="355.87,-1.80 355.42,2.24 354.98,6.27 354.53,10.31 354.08,14.35 353.63,18.39 353.18,22.42 352.72,26.46 352.27,30.50 351.81,34.54 351.36,38.57 350.90,42.61 350.44,46.65 349.98,50.68 349.52,54.72 349.06,58.76 348.60,62.80 348.13,66.83 347.67,70.87 347.20,74.91 346.73,78.95 346.26,82.98 345.79,87.02 345.32,91.06 344.84,95.09 344.37,99.13 343.89,103.17 343.41,107.21 342.93,111.24 342.45,115.28 341.97,119.32 341.48,123.36 340.99,127.39 340.51,131.43 340.02,135.47 339.52,139.51 339.03,143.54 338.54,147.58 338.04,151.62 337.54,155.65 337.04,159.69 336.54,163.73 336.03,167.77 335.53,171.80 335.02,175.84 334.51,179.88 334.00,183.92 333.48,187.95 332.97,191.99 332.45,196.03 331.93,200.06 331.40,204.10 330.88,208.14 330.35,212.18 329.82,216.21 329.29,220.25 328.75,224.29 328.21,228.33 327.67,232.36 327.13,236.40" stroke="#6b6b6b" stroke-opacity="0.75" stroke-width="0.6" fill="none"/>
<polygon points="376.92,-1.80 376.33,2.24 375.73,6.27 375.13,10.31 374.54,14.35 373.93,18.39 373.33,22.42 372.73,26.46 372.12,30.50 371.52,34.54 370.91,38.57 370.30,42.61 369.69,46.65 369.08,50.68 368.46,54.72 367.84,58.76 367.23,62.80 366.61,66.83 365.99,70.87 365.36,74.91 364.74,78.95 364.11,82.98 363.48,87.02 362.85,91.06 362.22,95.09 361.58,99.13 360.95,103.17 360.31,107.21 359.67,111.24 359.03,115.28 358.38,119.32 357.74,123.36 357.09,127.39 356.44,131.43 355.78,135.47 355.13,139.51 354.47,143.54 353.81,147.58 353.15,151.62 352.48,155.65 351.82,159.69 351.15,163.73 350.47,167.77 349.80,171.80 349.12,175.84 348.44,179.88 347.76,183.92 347.07,187.95 346.38,191.99 345.69,196.03 345.00,200.06 344.30,204.10 343.60,208.14 342.89,212.18 342.19,216.21 341.47,220.25 340.76,224.29 340.04,228.33 339.32,232.36 338.59,236.40 579.50,236.40 579.50,-1.80" fill="#d9e0e2"/>
<polyline points="376.92,-1.80 376.33,2.24 375.73,6.27 375.13,10.31 374.54,14.35 373.93,18.39 373.33,22.42 372.73,26.46 372.12,30.50 371.52,34.54 370.91,38.57 370.30,42.61 369.69,46.65 369.08,50.68 368.46,54.72 367.84,58.76 367.23,62.80 366.61,66.83 365.99,70.87 365.36,74.91 364.74,78.95 364.11,82.98 363.48,87.02 362.85,91.06 362.22,95.09 361.58,99.13 360.95,103.17 360.31,107.21 359.67,111.24 359.03,115.28 358.38,119.32 357.74,123.36 357.09,127.39 356.44,131.43 355.78,135.47 355.13,139.51 354.47,143.54 353.81,147.58 353.15,151.62 352.48,155.65 351.82,159.69 351.15,163.73 350.47,167.77 349.80,171.80 349.12,175.84 348.44,179.88 347.76,183.92 347.07,187.95 346.38,191.99 345.69,196.03 345.00,200.06 344.30,204.10 343.60,208.14 342.89,212.18 342.19,216.21 341.47,220.25 340.76,224.29 340.04,228.33 339.32,232.36 338.59,236.40" stroke="#6b6b6b" stroke-opacity="0.75" stroke-width="0.6" fill="none"/>
<polygon points="405.00,-1.80 404.21,2.24 403.41,6.27 402.61,10.31 401.82,14.35 401.01,18.39 400.21,22.42 399.41,26.46 398.60,30.50 397.79,34.54 396.98,38.57 396.17,42.61 395.35,46.65 394.53,50.68 393.72,54.72 392.89,58.76 392.07,62.80 391.24,66.83 390.41,70.87 389.58,74.91 388.75,78.95 387.91,82.98 387.08,87.02 386.23,91.06 385.39,95.09 384.55,99.13 383.70,103.17 382.85,107.21 381.99,111.24 381.14,115.28 380.28,119.32 379.41,123.36 378.55,127.39 377.68,131.43 376.81,135.47 375.94,139.51 375.06,143.54 374.18,147.58 373.30,151.62 372.41,155.65 371.52,159.69 370.63,163.73 369.73,167.77 368.83,171.80 367.93,175.84 367.02,179.88 366.11,183.92 365.19,187.95 364.27,191.99 363.35,196.03 362.43,200.06 361.49,204.10 360.56,208.14 359.62,212.18 358.68,216.21 357.73,220.25 356.78,224.29 355.82,228.33 354.86,232.36 353.89,236.40 579.50,236.40 579.50,-1.80" fill="#c6d9ea"/>
<polyline points="405.00,-1.80 404.21,2.24 403.41,6.27 402.61,10.31 401.82,14.35 401.01,18.39 400.21,22.42 399.41,26.46 398.60,30.50 397.79,34.54 396.98,38.57 396.17,42.61 395.35,46.65 394.53,50.68 393.72,54.72 392.89,58.76 392.07,62.80 391.24,66.83 390.41,70.87 389.58,74.91 388.75,78.95 387.91,82.98 387.08,87.02 386.23,91.06 385.39,95.09 384.55,99.13 383.70,103.17 382.85,107.21 381.99,111.24 381.14,115.28 380.28,119.32 379.41,123.36 378.55,127.39 377.68,131.43 376.81,135.47 375.94,139.51 375.06,143.54 374.18,147.58 373.30,151.62 372.41,155.65 371.52,159.69 370.63,163.73 369.73,167.77 368.83,171.80 367.93,175.84 367.02,179.88 366.11,183.92 365.19,187.95 364.27,191.99 363.35,196.03 362.43,200.06 361.49,204.10 360.56,208.14 359.62,212.18 358.68,216.21 357.73,220.25 356.78,224.29 355.82,228.33 354.86,232.36 353.89,236.40" stroke="#6b6b6b" stroke-opacity="0.75" stroke-width="0.6" fill="none"/>
<polygon points="442.44,-1.80 441.38,2.24 440.32,6.27 439.26,10.31 438.19,14.35 437.13,18.39 436.06,22.42 434.98,26.46 433.91,30.50 432.83,34.54 431.75,38.57 430.66,42.61 429.58,46.65 428.49,50.68 427.39,54.72 426.30,58.76 425.20,62.80 424.10,66.83 422.99,70.87 421.88,74.91 420.77,78.95 419.66,82.98 418.54,87.02 417.42,91.06 416.29,95.09 415.16,99.13 414.03,103.17 412.90,107.21 411.76,111.24 410.62,115.28 409.47,119.32 408.32,123.36 407.17,127.39 406.01,131.43 404.85,135.47 403.68,139.51 402.52,143.54 401.34,147.58 400.16,151.62 398.98,155.65 397.79,159.69 396.60,163.73 395.41,167.77 394.21,171.80 393.00,175.84 391.79,179.88 390.58,183.92 389.36,187.95 388.13,191.99 386.90,196.03 385.67,200.06 384.43,204.10 383.18,208.14 381.93,212.18 380.67,216.21 379.40,220.25 378.13,224.29 376.86,228.33 375.57,232.36 374.28,236.40 579.50,236.40 579.50,-1.80" fill="#b5bdeb"/>
<polyline points="442.44,-1.80 441.38,2.24 440.32,6.27 439.26,10.31 438.19,14.35 437.13,18.39 436.06,22.42 434.98,26.46 433.91,30.50 432.83,34.54 431.75,38.57 430.66,42.61 429.58,46.65 428.49,50.68 427.39,54.72 426.30,58.76 425.20,62.80 424.10,66.83 422.99,70.87 421.88,74.91 420.77,78.95 419.66,82.98 418.54,87.02 417.42,91.06 416.29,95.09 415.16,99.13 414.03,103.17 412.90,107.21 411.76,111.24 410.62,115.28 409.47,119.32 408.32,123.36 407.17,127.39 406.01,131.43 404.85,135.47 403.68,139.51 402.52,143.54 401.34,147.58 400.16,151.62 398.98,155.65 397.79,159.69 396.60,163.73 395.41,167.77 394.21,171.80 393.00,175.84 391.79,179.88 390.58,183.92 389.36,187.95 388.13,191.99 386.90,196.03 385.67,200.06 384.43,204.10 383.18,208.14 381.93,212.18 380.67,216.21 379.40,220.25 378.13,224.29 376.86,228.33 375.57,232.36 374.28,236.40" stroke="#6b6b6b" stroke-opacity="0.75" stroke-width="0.6" fill="none"/>
<polygon points="492.37,-1.80 490.96,2.24 489.54,6.27 488.13,10.31 486.71,14.35 485.28,18.39 483.86,22.42 482.42,26.46 480.99,30.50 479.55,34.54 478.11,38.57 476.66,42.61 475.21,46.65 473.76,50.68 472.30,54.72 470.84,58.76 469.38,62.80 467.91,66.83 466.43,70.87 464.95,74.91 463.47,78.95 461.99,82.98 460.50,87.02 459.00,91.06 457.50,95.09 456.00,99.13 454.49,103.17 452.97,107.21 451.46,111.24 449.93,115.28 448.40,119.32 446.87,123.36 445.33,127.39 443.79,131.43 442.24,135.47 440.69,139.51 439.13,143.54 437.56,147.58 435.99,151.62 434.42,155.65 432.83,159.69 431.24,163.73 429.65,167.77 428.05,171.80 426.44,175.84 424.83,179.88 423.21,183.92 421.58,187.95 419.95,191.99 418.31,196.03 416.66,200.06 415.01,204.10 413.34,208.14 411.67,212.18 409.99,216.21 408.31,220.25 406.61,224.29 404.91,228.33 403.20,232.36 401.48,236.40 579.50,236.40 579.50,-1.80" fill="#a49cea"/>
<polyline points="492.37,-1.80 490.96,2.24 489.54,6.27 488.13,10.31 486.71,14.35 485.28,18.39 483.86,22.42 482.42,26.46 480.99,30.50 479.55,34.54 478.11,38.57 476.66,42.61 475.21,46.65 473.76,50.68 472.30,54.72 470.84,58.76 469.38,62.80 467.91,66.83 466.43,70.87 464.95,74.91 463.47,78.95 461.99,82.98 460.50,87.02 459.00,91.06 457.50,95.09 456.00,99.13 454.49,103.17 452.97,107.21 451.46,111.24 449.93,115.28 448.40,119.32 446.87,123.36 445.33,127.39 443.79,131.43 442.24,135.47 440.69,139.51 439.13,143.54 437.56,147.58 435.99,151.62 434.42,155.65 432.83,159.69 431.24,163.73 429.65,167.77 428.05,171.80 426.44,175.84 424.83,179.88 423.21,183.92 421.58,187.95 419.95,191.99 418.31,196.03 416.66,200.06 415.01,204.10 413.34,208.14 411.67,212.18 409.99,216.21 408.31,220.25 406.61,224.29 404.91,228.33 403.20,232.36 401.48,236.40" stroke="#6b6b6b" stroke-opacity="0.75" stroke-width="0.6" fill="none"/>
<polygon points="558.95,-1.80 557.07,2.24 555.18,6.27 553.29,10.31 551.40,14.35 549.50,18.39 547.60,22.42 545.69,26.46 543.77,30.50 541.86,34.54 539.93,38.57 538.00,42.61 536.07,46.65 534.13,50.68 532.19,54.72 530.24,58.76 528.29,62.80 526.33,66.83 524.36,70.87 522.39,74.91 520.42,78.95 518.43,82.98 516.45,87.02 514.45,91.06 512.45,95.09 510.45,99.13 508.43,103.17 506.42,107.21 504.39,111.24 502.36,115.28 500.32,119.32 498.28,123.36 496.23,127.39 494.17,131.43 492.10,135.47 490.03,139.51 487.95,143.54 485.86,147.58 483.77,151.62 481.67,155.65 479.56,159.69 477.44,163.73 475.31,167.77 473.18,171.80 471.04,175.84 468.88,179.88 466.72,183.92 464.55,187.95 462.38,191.99 460.19,196.03 457.99,200.06 455.78,204.10 453.57,208.14 451.34,212.18 449.10,216.21 446.85,220.25 444.59,224.29 442.32,228.33 440.04,232.36 437.74,236.40 579.50,236.40 579.50,-1.80" fill="#8a78e0"/>
<polyline points="558.95,-1.80 557.07,2.24 555.18,6.27 553.29,10.31 551.40,14.35 549.50,18.39 547.60,22.42 545.69,26.46 543.77,30.50 541.86,34.54 539.93,38.57 538.00,42.61 536.07,46.65 534.13,50.68 532.19,54.72 530.24,58.76 528.29,62.80 526.33,66.83 524.36,70.87 522.39,74.91 520.42,78.95 518.43,82.98 516.45,87.02 514.45,91.06 512.45,95.09 510.45,99.13 508.43,103.17 506.42,107.21 504.39,111.24 502.36,115.28 500.32,119.32 498.28,123.36 496.23,127.39 494.17,131.43 492.10,135.47 490.03,139.51 487.95,143.54 485.86,147.58 483.77,151.62 481.67,155.65 479.56,159.69 477.44,163.73 475.31,167.77 473.18,171.80 471.04,175.84 468.88,179.88 466.72,183.92 464.55,187.95 462.38,191.99 460.19,196.03 457.99,200.06 455.78,204.10 453.57,208.14 451.34,212.18 449.10,216.21 446.85,220.25 444.59,224.29 442.32,228.33 440.04,232.36 437.74,236.40" stroke="#6b6b6b" stroke-opacity="0.75" stroke-width="0.6" fill="none"/>
<polygon points="647.74,-1.80 645.23,2.24 642.71,6.27 640.19,10.31 637.67,14.35 635.13,18.39 632.60,22.42 630.05,26.46 627.50,30.50 624.94,34.54 622.38,38.57 619.81,42.61 617.23,46.65 614.64,50.68 612.05,54.72 609.45,58.76 606.85,62.80 604.23,66.83 601.61,70.87 598.99,74.91 596.35,78.95 593.71,82.98 591.06,87.02 588.40,91.06 585.73,95.09 583.06,99.13 580.37,103.17 577.68,107.21 574.98,111.24 572.27,115.28 569.55,119.32 566.83,123.36 564.09,127.39 561.35,131.43 558.59,135.47 555.83,139.51 553.06,143.54 550.27,147.58 547.48,151.62 544.68,155.65 541.86,159.69 539.04,163.73 536.20,167.77 533.36,171.80 530.50,175.84 527.63,179.88 524.75,183.92 521.86,187.95 518.95,191.99 516.04,196.03 513.10,200.06 510.16,204.10 507.20,208.14 504.23,212.18 501.25,216.21 498.25,220.25 495.24,224.29 492.21,228.33 489.17,232.36 486.11,236.40 579.50,236.40 579.50,-1.80" fill="#6e4ec6"/>
<polyline points="647.74,-1.80 645.23,2.24 642.71,6.27 640.19,10.31 637.67,14.35 635.13,18.39 632.60,22.42 630.05,26.46 627.50,30.50 624.94,34.54 622.38,38.57 619.81,42.61 617.23,46.65 614.64,50.68 612.05,54.72 609.45,58.76 606.85,62.80 604.23,66.83 601.61,70.87 598.99,74.91 596.35,78.95 593.71,82.98 591.06,87.02 588.40,91.06 585.73,95.09 583.06,99.13 580.37,103.17 577.68,107.21 574.98,111.24 572.27,115.28 569.55,119.32 566.83,123.36 564.09,127.39 561.35,131.43 558.59,135.47 555.83,139.51 553.06,143.54 550.27,147.58 547.48,151.62 544.68,155.65 541.86,159.69 539.04,163.73 536.20,167.77 533.36,171.80 530.50,175.84 527.63,179.88 524.75,183.92 521.86,187.95 518.95,191.99 516.04,196.03 513.10,200.06 510.16,204.10 507.20,208.14 504.23,212.18 501.25,216.21 498.25,220.25 495.24,224.29 492.21,228.33 489.17,232.36 486.11,236.40" stroke="#6b6b6b" stroke-opacity="0.75" stroke-width="0.6" fill="none"/>
<polygon points="766.13,-1.80 762.79,2.24 759.44,6.27 756.08,10.31 752.71,14.35 749.33,18.39 745.95,22.42 742.55,26.46 739.15,30.50 735.74,34.54 732.32,38.57 728.89,42.61 725.45,46.65 722.00,50.68 718.55,54.72 715.08,58.76 711.61,62.80 708.12,66.83 704.63,70.87 701.12,74.91 697.61,78.95 694.09,82.98 690.55,87.02 687.00,91.06 683.45,95.09 679.88,99.13 676.30,103.17 672.71,107.21 669.11,111.24 665.50,115.28 661.88,119.32 658.24,123.36 654.60,127.39 650.94,131.43 647.26,135.47 643.58,139.51 639.88,143.54 636.17,147.58 632.44,151.62 628.71,155.65 624.95,159.69 621.19,163.73 617.41,167.77 613.61,171.80 609.80,175.84 605.97,179.88 602.13,183.92 598.27,187.95 594.40,191.99 590.51,196.03 586.60,200.06 582.68,204.10 578.73,208.14 574.77,212.18 570.79,216.21 566.79,220.25 562.78,224.29 558.74,228.33 554.68,232.36 550.60,236.40 579.50,236.40 579.50,-1.80" fill="#5a2ba8"/>
<polyline points="766.13,-1.80 762.79,2.24 759.44,6.27 756.08,10.31 752.71,14.35 749.33,18.39 745.95,22.42 742.55,26.46 739.15,30.50 735.74,34.54 732.32,38.57 728.89,42.61 725.45,46.65 722.00,50.68 718.55,54.72 715.08,58.76 711.61,62.80 708.12,66.83 704.63,70.87 701.12,74.91 697.61,78.95 694.09,82.98 690.55,87.02 687.00,91.06 683.45,95.09 679.88,99.13 676.30,103.17 672.71,107.21 669.11,111.24 665.50,115.28 661.88,119.32 658.24,123.36 654.60,127.39 650.94,131.43 647.26,135.47 643.58,139.51 639.88,143.54 636.17,147.58 632.44,151.62 628.71,155.65 624.95,159.69 621.19,163.73 617.41,167.77 613.61,171.80 609.80,175.84 605.97,179.88 602.13,183.92 598.27,187.95 594.40,191.99 590.51,196.03 586.60,200.06 582.68,204.10 578.73,208.14 574.77,212.18 570.79,216.21 566.79,220.25 562.78,224.29 558.74,228.33 554.68,232.36 550.60,236.40" stroke="#6b6b6b" stroke-opacity="0.75" stroke-width="0.6" fill="none"/>
<polygon points="924.02,-1.80 919.56,2.24 915.09,6.27 910.61,10.31 906.12,14.35 901.61,18.39 897.10,22.42 892.57,26.46 888.04,30.50 883.49,34.54 878.93,38.57 874.35,42.61 869.77,46.65 865.17,50.68 860.56,54.72 855.94,58.76 851.31,62.80 846.66,66.83 842.00,70.87 837.33,74.91 832.64,78.95 827.94,82.98 823.23,87.02 818.50,91.06 813.76,95.09 809.00,99.13 804.23,103.17 799.44,107.21 794.64,111.24 789.83,115.28 784.99,119.32 780.15,123.36 775.28,127.39 770.40,131.43 765.50,135.47 760.59,139.51 755.66,143.54 750.71,147.58 745.74,151.62 740.76,155.65 735.75,159.69 730.73,163.73 725.69,167.77 720.63,171.80 715.54,175.84 710.44,179.88 705.32,183.92 700.18,187.95 695.01,191.99 689.82,196.03 684.61,200.06 679.38,204.10 674.12,208.14 668.84,212.18 663.53,216.21 658.20,220.25 652.84,224.29 647.45,228.33 642.04,232.36 636.60,236.40 579.50,236.40 579.50,-1.80" fill="#4a1192"/>
<polyline points="924.02,-1.80 919.56,2.24 915.09,6.27 910.61,10.31 906.12,14.35 901.61,18.39 897.10,22.42 892.57,26.46 888.04,30.50 883.49,34.54 878.93,38.57 874.35,42.61 869.77,46.65 865.17,50.68 860.56,54.72 855.94,58.76 851.31,62.80 846.66,66.83 842.00,70.87 837.33,74.91 832.64,78.95 827.94,82.98 823.23,87.02 818.50,91.06 813.76,95.09 809.00,99.13 804.23,103.17 799.44,107.21 794.64,111.24 789.83,115.28 784.99,119.32 780.15,123.36 775.28,127.39 770.40,131.43 765.50,135.47 760.59,139.51 755.66,143.54 750.71,147.58 745.74,151.62 740.76,155.65 735.75,159.69 730.73,163.73 725.69,167.77 720.63,171.80 715.54,175.84 710.44,179.88 705.32,183.92 700.18,187.95 695.01,191.99 689.82,196.03 684.61,200.06 679.38,204.10 674.12,208.14 668.84,212.18 663.53,216.21 658.20,220.25 652.84,224.29 647.45,228.33 642.04,232.36 636.60,236.40" stroke="#6b6b6b" stroke-opacity="0.75" stroke-width="0.6" fill="none"/>
</g>
<path d="M45.10 1V233.3H278.00" fill="none" stroke="#fff" stroke-opacity="0.4" stroke-width="1"/>
<path d="M53.28 234.40V232.20M53.28 0.50V2.70M62.67 234.40V232.20M62.67 0.50V2.70M72.05 234.40V232.20M72.05 0.50V2.70M81.44 234.40V232.20M81.44 0.50V2.70M90.82 234.40V230.80M90.82 0.50V4.10M100.20 234.40V232.20M100.20 0.50V2.70M109.59 234.40V232.20M109.59 0.50V2.70M118.97 234.40V232.20M118.97 0.50V2.70M128.36 234.40V232.20M128.36 0.50V2.70M137.74 234.40V230.80M137.74 0.50V4.10M147.12 234.40V232.20M147.12 0.50V2.70M156.51 234.40V232.20M156.51 0.50V2.70M165.89 234.40V232.20M165.89 0.50V2.70M175.28 234.40V232.20M175.28 0.50V2.70M184.66 234.40V230.80M184.66 0.50V4.10M194.04 234.40V232.20M194.04 0.50V2.70M203.43 234.40V232.20M203.43 0.50V2.70M212.81 234.40V232.20M212.81 0.50V2.70M222.20 234.40V232.20M222.20 0.50V2.70M231.58 234.40V230.80M231.58 0.50V4.10M240.96 234.40V232.20M240.96 0.50V2.70M250.35 234.40V232.20M250.35 0.50V2.70M259.73 234.40V232.20M259.73 0.50V2.70M269.12 234.40V232.20M269.12 0.50V2.70M43.90 227.71H46.10M278.50 227.71H276.30M43.90 220.82H47.50M278.50 220.82H274.90M43.90 213.94H46.10M278.50 213.94H276.30M43.90 207.05H46.10M278.50 207.05H276.30M43.90 200.16H46.10M278.50 200.16H276.30M43.90 193.27H46.10M278.50 193.27H276.30M43.90 186.38H47.50M278.50 186.38H274.90M43.90 179.49H46.10M278.50 179.49H276.30M43.90 172.61H46.10M278.50 172.61H276.30M43.90 165.72H46.10M278.50 165.72H276.30M43.90 158.83H46.10M278.50 158.83H276.30M43.90 151.94H47.50M278.50 151.94H274.90M43.90 145.05H46.10M278.50 145.05H276.30M43.90 138.16H46.10M278.50 138.16H276.30M43.90 131.28H46.10M278.50 131.28H276.30M43.90 124.39H46.10M278.50 124.39H276.30M43.90 117.50H47.50M278.50 117.50H274.90M43.90 110.61H46.10M278.50 110.61H276.30M43.90 103.72H46.10M278.50 103.72H276.30M43.90 96.84H46.10M278.50 96.84H276.30M43.90 89.95H46.10M278.50 89.95H276.30M43.90 83.06H47.50M278.50 83.06H274.90M43.90 76.17H46.10M278.50 76.17H276.30M43.90 69.28H46.10M278.50 69.28H276.30M43.90 62.39H46.10M278.50 62.39H276.30M43.90 55.51H46.10M278.50 55.51H276.30M43.90 48.62H47.50M278.50 48.62H274.90M43.90 41.73H46.10M278.50 41.73H276.30M43.90 34.84H46.10M278.50 34.84H276.30M43.90 27.95H46.10M278.50 27.95H276.30M43.90 21.06H46.10M278.50 21.06H276.30M43.90 14.18H47.50M278.50 14.18H274.90M43.90 7.29H46.10M278.50 7.29H276.30" stroke="#000" stroke-opacity="0.8" stroke-width="0.9" fill="none"/>
<path d="M43.40 0.5H279.00M43.40 234.4H279.00M44.10 0V234.9M278.50 0V234.9" stroke="#000" stroke-opacity="0.75" stroke-width="1" fill="none"/>
<text x="43.40" y="248.00" text-anchor="middle" class="tk">0.05</text>
<text x="90.32" y="248.00" text-anchor="middle" class="tk">0.10</text>
<text x="137.24" y="248.00" text-anchor="middle" class="tk">0.15</text>
<text x="184.16" y="248.00" text-anchor="middle" class="tk">0.20</text>
<text x="231.08" y="248.00" text-anchor="middle" class="tk">0.25</text>
<text x="278.00" y="248.00" text-anchor="middle" class="tk">0.30</text>
<text x="40.70" y="225.12" text-anchor="end" class="tk">0.30</text>
<text x="40.70" y="190.68" text-anchor="end" class="tk">0.35</text>
<text x="40.70" y="156.24" text-anchor="end" class="tk">0.40</text>
<text x="40.70" y="121.80" text-anchor="end" class="tk">0.45</text>
<text x="40.70" y="87.36" text-anchor="end" class="tk">0.50</text>
<text x="40.70" y="52.92" text-anchor="end" class="tk">0.55</text>
<text x="40.70" y="18.48" text-anchor="end" class="tk">0.60</text>
<path d="M340.90 1V233.3H574.00" fill="none" stroke="#fff" stroke-opacity="0.4" stroke-width="1"/>
<path d="M349.09 234.40V232.20M349.09 0.50V2.70M358.48 234.40V232.20M358.48 0.50V2.70M367.88 234.40V232.20M367.88 0.50V2.70M377.27 234.40V232.20M377.27 0.50V2.70M386.66 234.40V230.80M386.66 0.50V4.10M396.05 234.40V232.20M396.05 0.50V2.70M405.44 234.40V232.20M405.44 0.50V2.70M414.84 234.40V232.20M414.84 0.50V2.70M424.23 234.40V232.20M424.23 0.50V2.70M433.62 234.40V230.80M433.62 0.50V4.10M443.01 234.40V232.20M443.01 0.50V2.70M452.40 234.40V232.20M452.40 0.50V2.70M461.80 234.40V232.20M461.80 0.50V2.70M471.19 234.40V232.20M471.19 0.50V2.70M480.58 234.40V230.80M480.58 0.50V4.10M489.97 234.40V232.20M489.97 0.50V2.70M499.36 234.40V232.20M499.36 0.50V2.70M508.76 234.40V232.20M508.76 0.50V2.70M518.15 234.40V232.20M518.15 0.50V2.70M527.54 234.40V230.80M527.54 0.50V4.10M536.93 234.40V232.20M536.93 0.50V2.70M546.32 234.40V232.20M546.32 0.50V2.70M555.72 234.40V232.20M555.72 0.50V2.70M565.11 234.40V232.20M565.11 0.50V2.70M339.70 227.71H341.90M574.50 227.71H572.30M339.70 220.82H343.30M574.50 220.82H570.90M339.70 213.94H341.90M574.50 213.94H572.30M339.70 207.05H341.90M574.50 207.05H572.30M339.70 200.16H341.90M574.50 200.16H572.30M339.70 193.27H341.90M574.50 193.27H572.30M339.70 186.38H343.30M574.50 186.38H570.90M339.70 179.49H341.90M574.50 179.49H572.30M339.70 172.61H341.90M574.50 172.61H572.30M339.70 165.72H341.90M574.50 165.72H572.30M339.70 158.83H341.90M574.50 158.83H572.30M339.70 151.94H343.30M574.50 151.94H570.90M339.70 145.05H341.90M574.50 145.05H572.30M339.70 138.16H341.90M574.50 138.16H572.30M339.70 131.28H341.90M574.50 131.28H572.30M339.70 124.39H341.90M574.50 124.39H572.30M339.70 117.50H343.30M574.50 117.50H570.90M339.70 110.61H341.90M574.50 110.61H572.30M339.70 103.72H341.90M574.50 103.72H572.30M339.70 96.84H341.90M574.50 96.84H572.30M339.70 89.95H341.90M574.50 89.95H572.30M339.70 83.06H343.30M574.50 83.06H570.90M339.70 76.17H341.90M574.50 76.17H572.30M339.70 69.28H341.90M574.50 69.28H572.30M339.70 62.39H341.90M574.50 62.39H572.30M339.70 55.51H341.90M574.50 55.51H572.30M339.70 48.62H343.30M574.50 48.62H570.90M339.70 41.73H341.90M574.50 41.73H572.30M339.70 34.84H341.90M574.50 34.84H572.30M339.70 27.95H341.90M574.50 27.95H572.30M339.70 21.06H341.90M574.50 21.06H572.30M339.70 14.18H343.30M574.50 14.18H570.90M339.70 7.29H341.90M574.50 7.29H572.30" stroke="#000" stroke-opacity="0.8" stroke-width="0.9" fill="none"/>
<path d="M339.20 0.5H575.00M339.20 234.4H575.00M339.90 0V234.9M574.50 0V234.9" stroke="#000" stroke-opacity="0.75" stroke-width="1" fill="none"/>
<text x="339.20" y="248.00" text-anchor="middle" class="tk">0.05</text>
<text x="386.16" y="248.00" text-anchor="middle" class="tk">0.10</text>
<text x="433.12" y="248.00" text-anchor="middle" class="tk">0.15</text>
<text x="480.08" y="248.00" text-anchor="middle" class="tk">0.20</text>
<text x="527.04" y="248.00" text-anchor="middle" class="tk">0.25</text>
<text x="574.00" y="248.00" text-anchor="middle" class="tk">0.30</text>
<text x="336.50" y="225.12" text-anchor="end" class="tk">0.30</text>
<text x="336.50" y="190.68" text-anchor="end" class="tk">0.35</text>
<text x="336.50" y="156.24" text-anchor="end" class="tk">0.40</text>
<text x="336.50" y="121.80" text-anchor="end" class="tk">0.45</text>
<text x="336.50" y="87.36" text-anchor="end" class="tk">0.50</text>
<text x="336.50" y="52.92" text-anchor="end" class="tk">0.55</text>
<text x="336.50" y="18.48" text-anchor="end" class="tk">0.60</text>
<rect x="593.50" y="17.80" width="12.70" height="18.60" fill="#f0e6d5"/>
<rect x="593.50" y="36.35" width="12.70" height="18.60" fill="#e7e4d8"/>
<rect x="593.50" y="54.90" width="12.70" height="18.60" fill="#d9e0e2"/>
<rect x="593.50" y="73.45" width="12.70" height="18.60" fill="#c6d9ea"/>
<rect x="593.50" y="92.00" width="12.70" height="18.60" fill="#b5bdeb"/>
<rect x="593.50" y="110.55" width="12.70" height="18.60" fill="#a49cea"/>
<rect x="593.50" y="129.10" width="12.70" height="18.60" fill="#8a78e0"/>
<rect x="593.50" y="147.65" width="12.70" height="18.60" fill="#6e4ec6"/>
<rect x="593.50" y="166.20" width="12.70" height="18.60" fill="#5a2ba8"/>
<rect x="593.50" y="184.75" width="12.70" height="18.60" fill="#4a1192"/>
<line x1="593.50" y1="36.35" x2="606.20" y2="36.35" stroke="#8a8a8a" stroke-width="0.7"/>
<line x1="593.50" y1="54.90" x2="606.20" y2="54.90" stroke="#8a8a8a" stroke-width="0.7"/>
<line x1="593.50" y1="73.45" x2="606.20" y2="73.45" stroke="#8a8a8a" stroke-width="0.7"/>
<line x1="593.50" y1="92.00" x2="606.20" y2="92.00" stroke="#8a8a8a" stroke-width="0.7"/>
<line x1="593.50" y1="110.55" x2="606.20" y2="110.55" stroke="#8a8a8a" stroke-width="0.7"/>
<line x1="593.50" y1="129.10" x2="606.20" y2="129.10" stroke="#8a8a8a" stroke-width="0.7"/>
<line x1="593.50" y1="147.65" x2="606.20" y2="147.65" stroke="#8a8a8a" stroke-width="0.7"/>
<line x1="593.50" y1="166.20" x2="606.20" y2="166.20" stroke="#8a8a8a" stroke-width="0.7"/>
<line x1="593.50" y1="184.75" x2="606.20" y2="184.75" stroke="#8a8a8a" stroke-width="0.7"/>
<line x1="606.20" y1="36.35" x2="609.20" y2="36.35" stroke="#bbb" stroke-width="0.6"/>
<text x="611.40" y="41.25" class="lg">3</text>
<line x1="606.20" y1="73.45" x2="609.20" y2="73.45" stroke="#bbb" stroke-width="0.6"/>
<text x="611.40" y="78.35" class="lg">2.5</text>
<line x1="606.20" y1="110.55" x2="609.20" y2="110.55" stroke="#bbb" stroke-width="0.6"/>
<text x="611.40" y="115.45" class="lg">2</text>
<line x1="606.20" y1="147.65" x2="609.20" y2="147.65" stroke="#bbb" stroke-width="0.6"/>
<text x="611.40" y="152.55" class="lg">1.5</text>
<line x1="606.20" y1="184.75" x2="609.20" y2="184.75" stroke="#bbb" stroke-width="0.6"/>
<text x="611.40" y="189.65" class="lg">1</text>
<text x="161.20" y="266.6" text-anchor="middle" class="tk">H/r</text>
<text x="457.10" y="266.6" text-anchor="middle" class="tk">H/r</text>
<text transform="translate(10.60,134.0) rotate(-90)" class="tk" style="font-size:12.8px"><tspan font-style="italic">r</tspan><tspan font-size="8.6" dy="2.6">out</tspan><tspan dy="-2.6">/</tspan><tspan font-style="italic">r</tspan><tspan font-size="8.6" font-style="italic" dy="2.6">H</tspan></text>
<text transform="translate(306.40,134.0) rotate(-90)" class="tk" style="font-size:12.8px"><tspan font-style="italic">r</tspan><tspan font-size="8.6" dy="2.6">out</tspan><tspan dy="-2.6">/</tspan><tspan font-style="italic">r</tspan><tspan font-size="8.6" font-style="italic" dy="2.6">H</tspan></text>
<text class="pl"><tspan x="155.65" y="214.50">log</tspan><tspan x="177.20" y="214.50" font-style="normal">(</tspan><tspan x="182.45" y="214.50">t</tspan><tspan x="188.00" y="217.50" font-size="10.8">growth</tspan><tspan x="221.30" y="214.50" font-style="normal">/</tspan><tspan x="226.10" y="214.50">P</tspan><tspan x="237.20" y="217.50" font-size="10.8">orb</tspan><tspan x="255.00" y="214.50" font-style="normal">)</tspan></text>
<text class="pl"><tspan x="464.55" y="216.40">log</tspan><tspan x="485.60" y="216.40" font-style="normal">(</tspan><tspan x="491.10" y="216.40">t</tspan><tspan x="497.50" y="219.40" font-size="10.8">ν</tspan><tspan x="503.30" y="216.40" font-style="normal">/</tspan><tspan x="509.10" y="216.40">P</tspan><tspan x="520.20" y="219.40" font-size="10.8">orb</tspan><tspan x="538.40" y="216.40" font-style="normal">)</tspan></text>
</svg>
</body></html>
